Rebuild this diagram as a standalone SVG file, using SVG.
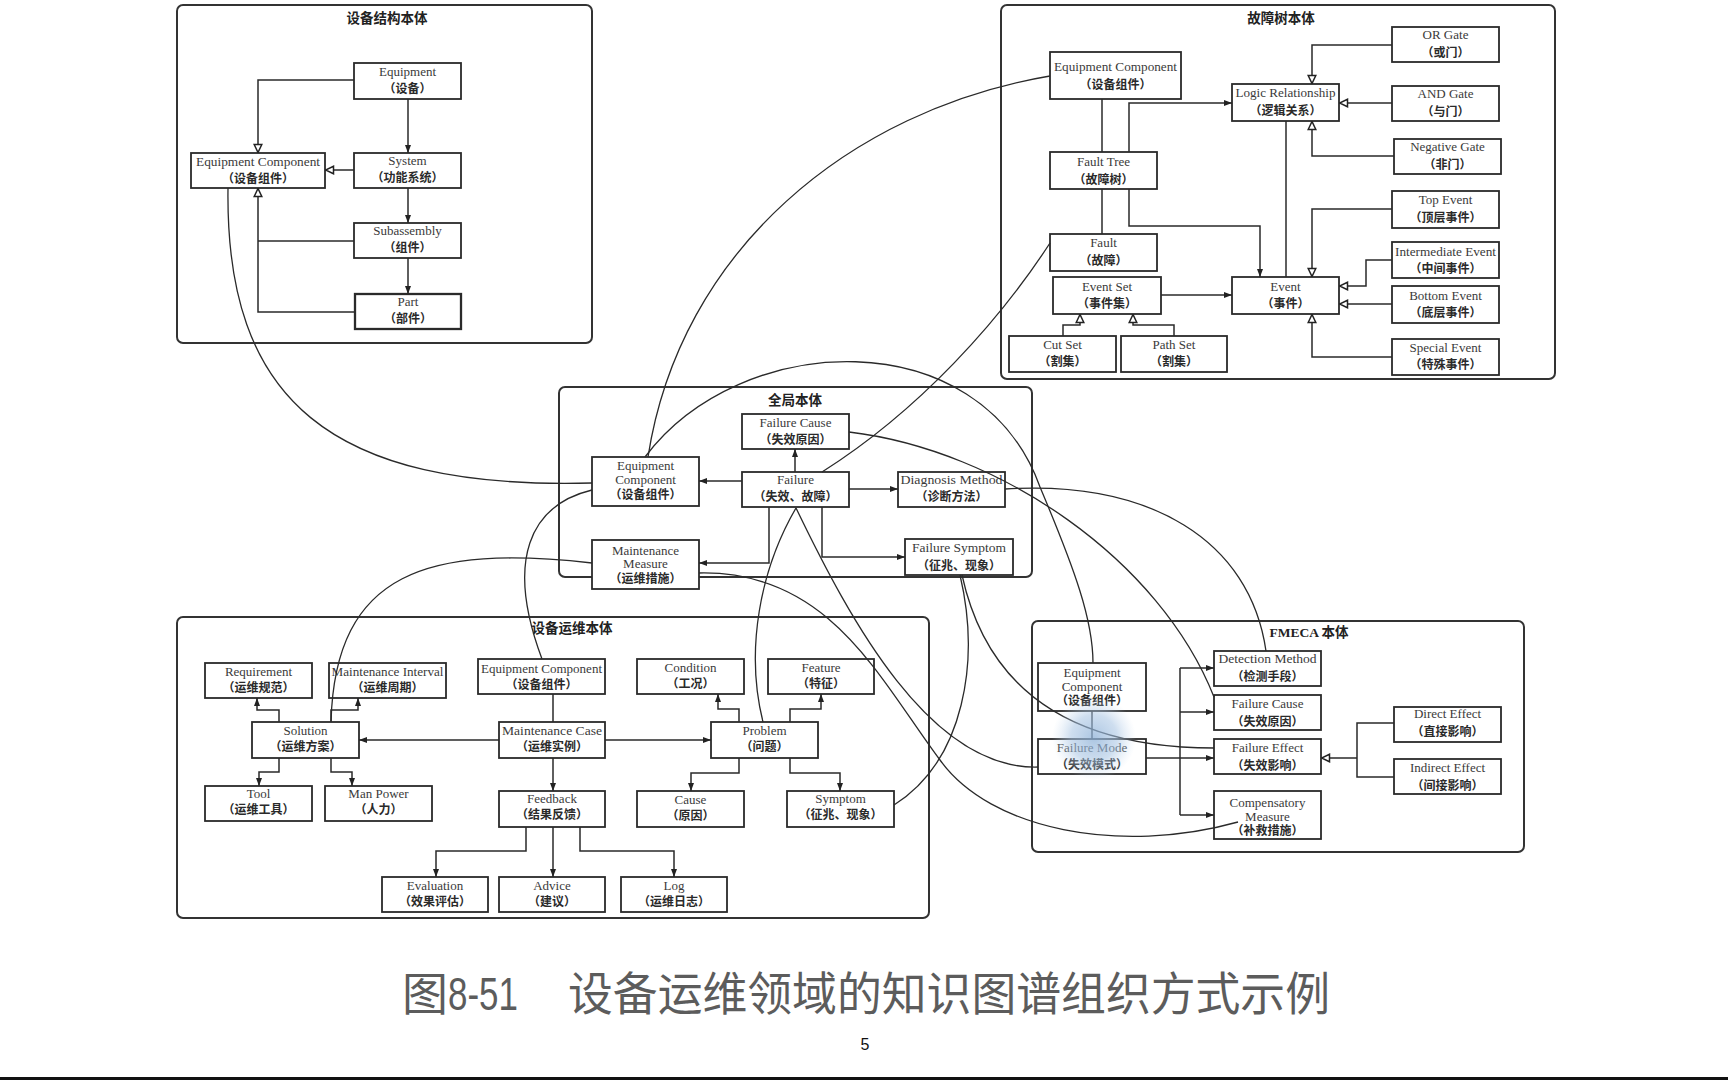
<svg xmlns="http://www.w3.org/2000/svg" width="1728" height="1080" viewBox="0 0 1728 1080">
<style>
.box{fill:#fff;stroke:#2a2a2a;stroke-width:1.8}
.frame{fill:none;stroke:#333;stroke-width:2}
.en{font-family:"Liberation Serif",serif;font-size:13px;fill:#3a3a3a;text-anchor:middle}
.zh{font-family:"Noto Sans CJK SC",sans-serif;font-size:12px;font-weight:bold;fill:#2a2a2a;text-anchor:middle}
.title{font-family:"Liberation Serif","Noto Sans CJK SC",serif;font-size:13.5px;font-weight:bold;fill:#222;text-anchor:middle}
.ln{fill:none;stroke:#2a2a2a;stroke-width:1.5}
.cv{fill:none;stroke:#2a2a2a;stroke-width:1.3}
.a{marker-end:url(#arr)}
.t{marker-end:url(#tri)}
</style>
<defs>
<marker id="arr" viewBox="0 0 8 6" refX="8" refY="3" markerWidth="8" markerHeight="6" orient="auto" markerUnits="userSpaceOnUse"><path d="M0,0 L8,3 L0,6 z" fill="#222"/></marker>
<marker id="tri" viewBox="0 0 10 10" refX="10" refY="5" markerWidth="10" markerHeight="10" orient="auto" markerUnits="userSpaceOnUse"><path d="M1.5,1.2 L9.5,5 L1.5,8.8 z" fill="#fff" stroke="#222" stroke-width="1.5"/></marker>
<radialGradient id="blob" cx="0.5" cy="0.5" r="0.5">
<stop offset="0" stop-color="#8fb2d8" stop-opacity="0.75"/>
<stop offset="0.55" stop-color="#a6c3e2" stop-opacity="0.55"/>
<stop offset="1" stop-color="#c8dcf0" stop-opacity="0"/>
</radialGradient>
</defs>
<rect width="1728" height="1080" fill="#fff"/>

<!-- frames -->
<g id="frame-structure"><rect class="frame" x="177" y="5" width="415" height="338" rx="6"/><text class="title" x="387" y="23">设备结构本体</text></g>
<g id="frame-faulttree"><rect class="frame" x="1001" y="5" width="554" height="374" rx="6"/><text class="title" x="1281" y="23">故障树本体</text></g>
<g id="frame-global"><rect class="frame" x="559" y="387" width="473" height="190" rx="6"/><text class="title" x="795" y="405">全局本体</text></g>
<g id="frame-ops"><rect class="frame" x="177" y="617" width="752" height="301" rx="6"/><text class="title" x="572" y="633">设备运维本体</text></g>
<g id="frame-fmeca"><rect class="frame" x="1032" y="621" width="492" height="231" rx="6"/><text class="title" x="1309" y="637">FMECA 本体</text></g>

<!-- structure ontology -->
<g id="s_equipment"><rect class="box" x="354" y="63" width="107" height="36"/><text class="en" x="407.5" y="76">Equipment</text><text class="zh" x="407.5" y="93">（设备）</text></g>
<g id="s_system"><rect class="box" x="354" y="153" width="107" height="35"/><text class="en" x="407.5" y="165">System</text><text class="zh" x="407.5" y="182">（功能系统）</text></g>
<g id="s_subassembly"><rect class="box" x="354" y="223" width="107" height="35"/><text class="en" x="407.5" y="235">Subassembly</text><text class="zh" x="407.5" y="252">（组件）</text></g>
<g id="s_part"><rect class="box" x="355" y="294" width="106" height="35" style="stroke-width:2.3"/><text class="en" x="408" y="306">Part</text><text class="zh" x="408" y="323">（部件）</text></g>
<g id="s_ec"><rect class="box" x="191" y="153" width="134" height="35"/><text class="en" x="258" y="166" textLength="124" lengthAdjust="spacingAndGlyphs">Equipment Component</text><text class="zh" x="258" y="183">（设备组件）</text></g>

<!-- fault tree ontology -->
<g id="f_ec"><rect class="box" x="1050" y="52" width="131" height="47"/><text class="en" x="1115.5" y="71" textLength="123" lengthAdjust="spacingAndGlyphs">Equipment Component</text><text class="zh" x="1115.5" y="89">（设备组件）</text></g>
<g id="f_lr"><rect class="box" x="1232" y="84" width="107" height="37"/><text class="en" x="1285.5" y="97" textLength="100" lengthAdjust="spacingAndGlyphs">Logic Relationship</text><text class="zh" x="1285.5" y="115">（逻辑关系）</text></g>
<g id="f_or"><rect class="box" x="1392" y="27" width="107" height="35"/><text class="en" x="1445.5" y="39">OR Gate</text><text class="zh" x="1445.5" y="57">（或门）</text></g>
<g id="f_and"><rect class="box" x="1392" y="86" width="107" height="35"/><text class="en" x="1445.5" y="98">AND Gate</text><text class="zh" x="1445.5" y="116">（与门）</text></g>
<g id="f_neg"><rect class="box" x="1394" y="139" width="107" height="35"/><text class="en" x="1447.5" y="151">Negative Gate</text><text class="zh" x="1447.5" y="169">（非门）</text></g>
<g id="f_ft"><rect class="box" x="1050" y="152" width="107" height="37"/><text class="en" x="1103.5" y="166">Fault Tree</text><text class="zh" x="1103.5" y="184">（故障树）</text></g>
<g id="f_fault"><rect class="box" x="1050" y="234" width="107" height="37"/><text class="en" x="1103.5" y="247">Fault</text><text class="zh" x="1103.5" y="265">（故障）</text></g>
<g id="f_es"><rect class="box" x="1053" y="277" width="108" height="37"/><text class="en" x="1107" y="291">Event Set</text><text class="zh" x="1107" y="308">（事件集）</text></g>
<g id="f_cut"><rect class="box" x="1009" y="336" width="107" height="36"/><text class="en" x="1062.5" y="349">Cut Set</text><text class="zh" x="1062.5" y="366">（割集）</text></g>
<g id="f_path"><rect class="box" x="1121" y="336" width="106" height="36"/><text class="en" x="1174" y="349">Path Set</text><text class="zh" x="1174" y="366">（割集）</text></g>
<g id="f_event"><rect class="box" x="1232" y="277" width="107" height="37"/><text class="en" x="1285.5" y="291">Event</text><text class="zh" x="1285.5" y="308">（事件）</text></g>
<g id="f_top"><rect class="box" x="1392" y="191" width="107" height="37"/><text class="en" x="1445.5" y="204">Top Event</text><text class="zh" x="1445.5" y="222">（顶层事件）</text></g>
<g id="f_mid"><rect class="box" x="1392" y="242" width="107" height="36"/><text class="en" x="1445.5" y="256" textLength="101" lengthAdjust="spacingAndGlyphs">Intermediate Event</text><text class="zh" x="1445.5" y="273">（中间事件）</text></g>
<g id="f_bottom"><rect class="box" x="1392" y="286" width="107" height="37"/><text class="en" x="1445.5" y="300">Bottom Event</text><text class="zh" x="1445.5" y="317">（底层事件）</text></g>
<g id="f_special"><rect class="box" x="1392" y="339" width="107" height="36"/><text class="en" x="1445.5" y="352">Special Event</text><text class="zh" x="1445.5" y="369">（特殊事件）</text></g>

<!-- global ontology -->
<g id="g_fc"><rect class="box" x="742" y="414" width="107" height="35"/><text class="en" x="795.5" y="427">Failure Cause</text><text class="zh" x="795.5" y="444">（失效原因）</text></g>
<g id="g_ec"><rect class="box" x="592" y="457" width="107" height="49"/><text class="en" x="645.5" y="470">Equipment</text><text class="en" x="645.5" y="484">Component</text><text class="zh" x="645.5" y="499">（设备组件）</text></g>
<g id="g_failure"><rect class="box" x="742" y="472" width="107" height="35"/><text class="en" x="795.5" y="484">Failure</text><text class="zh" x="795.5" y="501">（失效、故障）</text></g>
<g id="g_dm"><rect class="box" x="898" y="472" width="107" height="35"/><text class="en" x="951.5" y="484" textLength="102" lengthAdjust="spacingAndGlyphs">Diagnosis Method</text><text class="zh" x="951.5" y="501">（诊断方法）</text></g>
<g id="g_mm"><rect class="box" x="592" y="540" width="107" height="49"/><text class="en" x="645.5" y="555">Maintenance</text><text class="en" x="645.5" y="568">Measure</text><text class="zh" x="645.5" y="583">（运维措施）</text></g>
<g id="g_fs"><rect class="box" x="905" y="539" width="108" height="36"/><text class="en" x="959" y="552" textLength="94" lengthAdjust="spacingAndGlyphs">Failure Symptom</text><text class="zh" x="959" y="570">（征兆、现象）</text></g>

<!-- ops ontology -->
<g id="o_req"><rect class="box" x="205" y="663" width="107" height="35"/><text class="en" x="258.5" y="676">Requirement</text><text class="zh" x="258.5" y="692">（运维规范）</text></g>
<g id="o_mi"><rect class="box" x="329" y="663" width="117" height="35"/><text class="en" x="387.5" y="676" textLength="112" lengthAdjust="spacingAndGlyphs">Maintenance Interval</text><text class="zh" x="387.5" y="692">（运维周期）</text></g>
<g id="o_ec"><rect class="box" x="478" y="659" width="127" height="35"/><text class="en" x="541.5" y="673" textLength="121" lengthAdjust="spacingAndGlyphs">Equipment Component</text><text class="zh" x="541.5" y="689">（设备组件）</text></g>
<g id="o_cond"><rect class="box" x="637" y="659" width="107" height="35"/><text class="en" x="690.5" y="672">Condition</text><text class="zh" x="690.5" y="688">（工况）</text></g>
<g id="o_feat"><rect class="box" x="768" y="659" width="106" height="35"/><text class="en" x="821" y="672">Feature</text><text class="zh" x="821" y="688">（特征）</text></g>
<g id="o_sol"><rect class="box" x="252" y="722" width="107" height="36"/><text class="en" x="305.5" y="735">Solution</text><text class="zh" x="305.5" y="751">（运维方案）</text></g>
<g id="o_mc"><rect class="box" x="499" y="722" width="106" height="36"/><text class="en" x="552" y="735" textLength="100" lengthAdjust="spacingAndGlyphs">Maintenance Case</text><text class="zh" x="552" y="751">（运维实例）</text></g>
<g id="o_prob"><rect class="box" x="711" y="722" width="107" height="36"/><text class="en" x="764.5" y="735">Problem</text><text class="zh" x="764.5" y="751">（问题）</text></g>
<g id="o_tool"><rect class="box" x="205" y="786" width="107" height="35"/><text class="en" x="258.5" y="798">Tool</text><text class="zh" x="258.5" y="814">（运维工具）</text></g>
<g id="o_mp"><rect class="box" x="325" y="786" width="107" height="35"/><text class="en" x="378.5" y="798">Man Power</text><text class="zh" x="378.5" y="814">（人力）</text></g>
<g id="o_fb"><rect class="box" x="499" y="791" width="106" height="36"/><text class="en" x="552" y="803">Feedback</text><text class="zh" x="552" y="819">（结果反馈）</text></g>
<g id="o_cause"><rect class="box" x="637" y="791" width="107" height="36"/><text class="en" x="690.5" y="804">Cause</text><text class="zh" x="690.5" y="820">（原因）</text></g>
<g id="o_sym"><rect class="box" x="787" y="791" width="107" height="36"/><text class="en" x="840.5" y="803">Symptom</text><text class="zh" x="840.5" y="819">（征兆、现象）</text></g>
<g id="o_eval"><rect class="box" x="382" y="877" width="106" height="35"/><text class="en" x="435" y="890">Evaluation</text><text class="zh" x="435" y="906">（效果评估）</text></g>
<g id="o_adv"><rect class="box" x="499" y="877" width="106" height="35"/><text class="en" x="552" y="890">Advice</text><text class="zh" x="552" y="906">（建议）</text></g>
<g id="o_log"><rect class="box" x="621" y="877" width="106" height="35"/><text class="en" x="674" y="890">Log</text><text class="zh" x="674" y="906">（运维日志）</text></g>

<!-- FMECA ontology -->
<g id="m_ec"><rect class="box" x="1038" y="663" width="108" height="48"/><text class="en" x="1092" y="677">Equipment</text><text class="en" x="1092" y="691">Component</text><text class="zh" x="1092" y="705">（设备组件）</text></g>
<g id="m_fm"><rect class="box" x="1038" y="739" width="108" height="35"/><text class="en" x="1092" y="752">Failure Mode</text><text class="zh" x="1092" y="769">（失效模式）</text></g>
<g id="m_dm"><rect class="box" x="1214" y="651" width="107" height="35"/><text class="en" x="1267.5" y="663" textLength="98" lengthAdjust="spacingAndGlyphs">Detection Method</text><text class="zh" x="1267.5" y="681">（检测手段）</text></g>
<g id="m_fc"><rect class="box" x="1214" y="695" width="107" height="35"/><text class="en" x="1267.5" y="708">Failure Cause</text><text class="zh" x="1267.5" y="726">（失效原因）</text></g>
<g id="m_fe"><rect class="box" x="1214" y="739" width="107" height="35"/><text class="en" x="1267.5" y="752">Failure Effect</text><text class="zh" x="1267.5" y="770">（失效影响）</text></g>
<g id="m_cm"><rect class="box" x="1214" y="791" width="107" height="48"/><text class="en" x="1267.5" y="807">Compensatory</text><text class="en" x="1267.5" y="821">Measure</text><text class="zh" x="1267.5" y="835">（补救措施）</text></g>
<g id="m_de"><rect class="box" x="1394" y="707" width="107" height="35"/><text class="en" x="1447.5" y="718">Direct Effect</text><text class="zh" x="1447.5" y="736">（直接影响）</text></g>
<g id="m_ie"><rect class="box" x="1394" y="759" width="107" height="35"/><text class="en" x="1447.5" y="772">Indirect Effect</text><text class="zh" x="1447.5" y="790">（间接影响）</text></g>

<g id="connectors">
<!-- structure -->
<path class="ln a" d="M408 99 V153"/>
<path class="ln a" d="M408 188 V223"/>
<path class="ln a" d="M408 258 V294"/>
<path class="ln t" d="M354 80 H258 V153"/>
<path class="ln t" d="M354 170 H325"/>
<path class="ln" d="M354 241 H258"/>
<path class="ln t" d="M355 312 H258 V188"/>
<!-- fault tree -->
<path class="ln" d="M1102 99 V152"/>
<path class="ln" d="M1102 189 V234"/>
<path class="ln a" d="M1129 152 V103 H1232"/>
<path class="ln a" d="M1129 189 V226 H1260 V277"/>
<path class="ln" d="M1286 121 V277"/>
<path class="ln t" d="M1392 45 H1312 V84"/>
<path class="ln t" d="M1392 103 H1339"/>
<path class="ln t" d="M1394 156 H1312 V121"/>
<path class="ln t" d="M1392 209 H1312 V277"/>
<path class="ln t" d="M1392 260 H1366 V286 H1339"/>
<path class="ln t" d="M1392 304 H1339"/>
<path class="ln t" d="M1392 357 H1312 V314"/>
<path class="ln a" d="M1161 295 H1232"/>
<path class="ln t" d="M1063 336 V325 H1080 V314"/>
<path class="ln t" d="M1174 336 V325 H1133 V314"/>
<!-- global -->
<path class="ln a" d="M795 472 V449"/>
<path class="ln a" d="M742 481 H699"/>
<path class="ln a" d="M849 489 H898"/>
<path class="ln a" d="M769 507 V563 H699"/>
<path class="ln a" d="M822 507 V557 H905"/>
<!-- ops -->
<path class="ln a" d="M279 722 V710 H257 V698"/>
<path class="ln a" d="M331 722 V710 H358 V698"/>
<path class="ln a" d="M279 758 V772 H259 V786"/>
<path class="ln a" d="M331 758 V772 H352 V786"/>
<path class="ln a" d="M499 740 H359"/>
<path class="ln a" d="M605 740 H711"/>
<path class="ln" d="M553 694 V722"/>
<path class="ln a" d="M553 758 V791"/>
<path class="ln a" d="M526 827 V851 H436 V877"/>
<path class="ln a" d="M553 827 V877"/>
<path class="ln a" d="M580 827 V851 H674 V877"/>
<path class="ln a" d="M739 722 V709 H718 V694"/>
<path class="ln a" d="M790 722 V709 H821 V694"/>
<path class="ln a" d="M739 758 V773 H691 V791"/>
<path class="ln a" d="M790 758 V773 H840 V791"/>
<!-- FMECA -->
<path class="ln" d="M1092 711 V739"/>
<path class="ln a" d="M1146 758 H1214"/>
<path class="ln" d="M1180 668 V815"/>
<path class="ln a" d="M1180 668 H1214"/>
<path class="ln a" d="M1180 712 H1214"/>
<path class="ln a" d="M1180 815 H1214"/>
<path class="ln" d="M1394 723 H1357 V777 H1394"/>
<path class="ln t" d="M1357 758 H1321"/>
<!-- cross-ontology curves -->
<path class="cv" d="M228 188 C225 400 330 490 592 483"/>
<path class="cv" d="M1050 76 C850 110 680 250 648 457"/>
<path class="cv" d="M1050 243 C1000 320 920 410 822 472"/>
<path class="cv" d="M645 457 C740 330 980 320 1040 487 C1075 570 1093 620 1093 663"/>
<path class="cv" d="M849 432 C1000 450 1160 560 1214 697"/>
<path class="cv" d="M1005 489 C1150 480 1250 540 1266 651"/>
<path class="cv" d="M796 508 C760 570 745 650 763 722"/>
<path class="cv" d="M796 508 C850 620 930 770 1038 767"/>
<path class="cv" d="M699 573 C830 570 880 680 940 760 C990 830 1120 855 1238 822"/>
<path class="cv" d="M962 575 C985 680 1060 748 1214 748"/>
<path class="cv" d="M960 575 C980 660 965 760 894 805"/>
<path class="cv" d="M592 490 C530 505 505 560 542 659"/>
<path class="cv" d="M592 563 C430 545 335 570 331 722"/>
</g>

<circle cx="1094" cy="738" r="42" fill="url(#blob)"/>

<g id="caption">
<text x="402" y="1010" style="font-family:'Noto Sans CJK SC',sans-serif;font-size:46px;fill:#5c5c5c">图</text>
<text x="448" y="1010" textLength="70" lengthAdjust="spacingAndGlyphs" style="font-family:'Liberation Sans','Noto Sans CJK SC',sans-serif;font-size:46px;fill:#5c5c5c">8-51</text>
<text x="568" y="1010" textLength="762" lengthAdjust="spacingAndGlyphs" style="font-family:'Noto Sans CJK SC',sans-serif;font-size:46px;fill:#5c5c5c">设备运维领域的知识图谱组织方式示例</text>
<text x="865" y="1050" style="font-family:'Liberation Sans',sans-serif;font-size:16px;fill:#111;text-anchor:middle">5</text>
</g>
<rect x="0" y="1077" width="1728" height="3" fill="#111"/>
</svg>
